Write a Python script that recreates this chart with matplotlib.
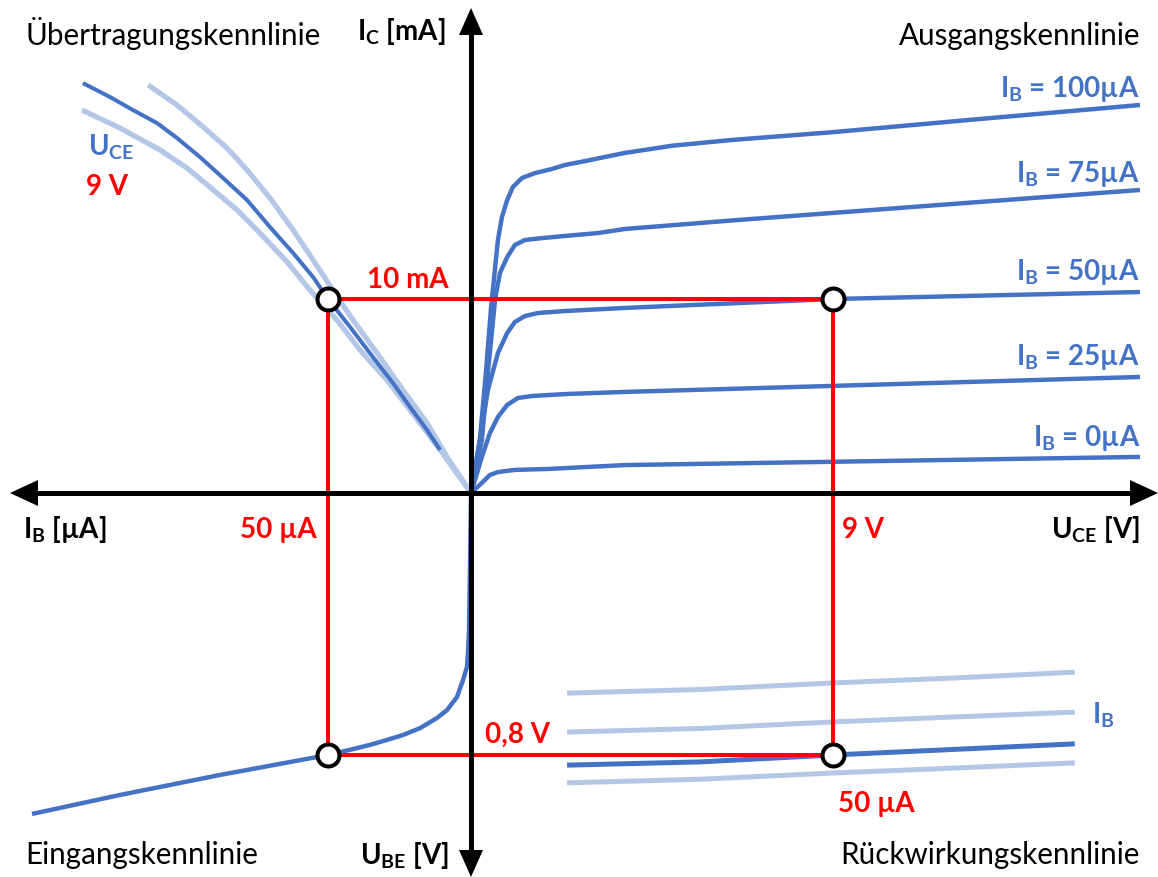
import matplotlib
matplotlib.use("Agg")
import matplotlib.pyplot as plt

plt.rcParams["font.family"] = ["Lato", "DejaVu Sans"]
plt.rcParams["mathtext.fontset"] = "custom"
plt.rcParams["mathtext.rm"] = "Lato"
plt.rcParams["mathtext.bf"] = "Lato:bold"
plt.rcParams["mathtext.it"] = "Lato:italic"

BLUE = "#4472C4"
LIGHT = "#B4C7E7"
RED = "#FF0000"

# ---- operating point ----
UCE_A = 9.0     # V
IC_A = 10.0     # mA
IB_A = 50.0     # µA
UBE_A = 0.8     # V

# ---- Ausgangskennlinie: I_C [mA] over U_CE [V] for each I_B ----
ib_values = [100, 75, 50, 25, 0]
out_uce = [
    [0, 0.22, 0.37, 0.50, 0.67, 0.77, 0.90, 1.04, 1.27, 1.59, 2.01, 2.34, 2.84, 3.33, 3.83,
     5.0, 6.5, 9.0, 12.5, 16.64],
    [0, 0.27, 0.42, 0.60, 0.72, 0.90, 1.09, 1.34, 1.77, 2.34, 3.16, 3.83, 6.5, 16.64],
    [0, 0.22, 0.42, 0.67, 0.90, 1.09, 1.34, 1.67, 2.34, 3.83, 9.0, 16.64],
    [0, 0.27, 0.47, 0.67, 0.90, 1.17, 1.52, 2.34, 3.83, 16.64],
    [0, 0.27, 0.47, 0.67, 1.09, 1.92, 3.83, 16.64],
]
out_ic = [
    [0, 2.73, 6.19, 9.59, 13.04, 14.23, 15.10, 15.77, 16.24, 16.49, 16.70, 16.91, 17.11, 17.32, 17.53,
     17.9, 18.2, 18.6, 19.25, 20.0],
    [0, 2.73, 6.19, 10.0, 11.34, 12.16, 12.78, 13.04, 13.14, 13.25, 13.40, 13.61, 14.05, 15.62],
    [0, 2.73, 5.31, 7.22, 8.25, 8.81, 9.12, 9.28, 9.38, 9.54, 10.0, 10.36],
    [0, 1.86, 3.09, 3.92, 4.54, 4.90, 5.0, 5.10, 5.21, 5.98],
    [0, 0.52, 0.93, 1.08, 1.19, 1.24, 1.44, 1.86],
]

# ---- Übertragungskennlinie: I_C [mA] over I_B [µA] ----
tr_ib_main = [135.7, 126.2, 118.2, 109.8, 102.8, 94.8, 86.7, 78.3, 70.3, 62.2,
              55.2, 50.0, 42.3, 34.3, 27.3, 21.3, 15.4, 10.8]
tr_ic_main = [21.13, 20.41, 19.74, 19.07, 18.30, 17.32, 16.24, 15.10, 13.71, 12.37,
              11.13, 10.0, 8.56, 7.01, 5.67, 4.43, 3.25, 2.22]
tr_ib_high = [112.9, 102.8, 93.7, 85.3, 78.3, 70.3, 62.2, 55.2, 48.3, 41.3,
              32.9, 23.8, 15.4, 8.4, 0]
tr_ic_high = [21.03, 20.0, 18.87, 17.78, 16.65, 15.21, 13.56, 12.01, 10.46, 8.92,
              7.22, 5.31, 3.61, 1.86, 0]
tr_ib_low = [136.0, 122.7, 108.7, 99.3, 91.3, 81.8, 73.8, 64.3, 56.3, 46.9,
             38.8, 29.4, 21.3, 10.8, 0]
tr_ic_low = [19.74, 18.81, 17.68, 16.75, 15.77, 14.59, 13.40, 11.91, 10.46, 8.92,
             7.37, 5.82, 4.28, 2.22, 0]

# ---- Eingangskennlinie: U_BE [V] over I_B [µA] ----
in_ib = [153.5, 122.7, 87.8, 50.0, 41.3, 35.3, 29.4, 23.8, 17.8, 11.9, 8.4,
         4.9, 2.8, 1.4, 1.0, 0.7, 0.3, 0]
in_ube = [0.980, 0.922, 0.861, 0.800, 0.782, 0.769, 0.754, 0.739, 0.718, 0.687, 0.663,
          0.623, 0.571, 0.531, 0.479, 0.418, 0.20, 0]

# ---- Rückwirkungskennlinie: U_BE [V] over U_CE [V] ----
fb_uce = [2.39, 5.70, 9.0, 12.0, 15.02]
fb_ube_1 = [0.611, 0.600, 0.580, 0.565, 0.547]
fb_ube_2 = [0.730, 0.719, 0.699, 0.684, 0.669]
fb_ube_main = [0.831, 0.821, 0.800, 0.783, 0.766]
fb_ube_3 = [0.885, 0.874, 0.855, 0.840, 0.824]

# ---- layout (pixels) ----
W, H = 1158, 877
OX, OY = 471, 493          # crossing point of the axes
PX_UCE = 40.2              # px per V (U_CE)
PX_IC = 19.4               # px per mA
PX_IB = 2.86               # px per µA
PX_UBE = 327.5             # px per V (U_BE)

fig = plt.figure(figsize=(W / 100, H / 100), dpi=100)


def add_ax(x0, y0, x1, y1, z):
    ax = fig.add_axes([x0 / W, 1 - y1 / H, (x1 - x0) / W, (y1 - y0) / H], zorder=z)
    ax.set_axis_off()
    ax.patch.set_visible(False)
    return ax


ax_out = add_ax(OX, 0, W, OY, 1)
ax_out.set_xlim(0, (W - OX) / PX_UCE)
ax_out.set_ylim(0, OY / PX_IC)

ax_tr = add_ax(0, 0, OX, OY, 1)
ax_tr.set_xlim(OX / PX_IB, 0)
ax_tr.set_ylim(0, OY / PX_IC)

ax_in = add_ax(0, OY, OX, H, 1)
ax_in.set_xlim(OX / PX_IB, 0)
ax_in.set_ylim((H - OY) / PX_UBE, 0)

ax_fb = add_ax(OX, OY, W, H, 1)
ax_fb.set_xlim(0, (W - OX) / PX_UCE)
ax_fb.set_ylim((H - OY) / PX_UBE, 0)

ax_top = add_ax(0, 0, W, H, 5)
ax_top.set_xlim(0, W)
ax_top.set_ylim(H, 0)

curve_kw = dict(solid_capstyle="butt", solid_joinstyle="round", clip_on=False)

# output characteristics
for u, i in zip(out_uce, out_ic):
    ax_out.plot(u, i, color=BLUE, lw=3.2, zorder=2, **curve_kw)

# transfer characteristics
ax_tr.plot(tr_ib_high, tr_ic_high, color=LIGHT, lw=3.8, zorder=2, **curve_kw)
ax_tr.plot(tr_ib_low, tr_ic_low, color=LIGHT, lw=3.8, zorder=2, **curve_kw)
ax_tr.plot(tr_ib_main, tr_ic_main, color=BLUE, lw=2.9, zorder=2.5, **curve_kw)

# input characteristic
ax_in.plot(in_ib, in_ube, color=BLUE, lw=3.2, zorder=2, **curve_kw)

# feedback characteristics
for ube in (fb_ube_1, fb_ube_2, fb_ube_3):
    ax_fb.plot(fb_uce, ube, color=LIGHT, lw=3.6, zorder=2, **curve_kw)
ax_fb.plot(fb_uce, fb_ube_main, color=BLUE, lw=3.6, zorder=2.5, **curve_kw)

# operating point construction lines
red_kw = dict(color=RED, lw=2.9, zorder=3, solid_capstyle="butt", clip_on=False)
ax_out.plot([0, UCE_A], [IC_A, IC_A], **red_kw)
ax_out.plot([UCE_A, UCE_A], [IC_A, 0], **red_kw)
ax_tr.plot([IB_A, 0], [IC_A, IC_A], **red_kw)
ax_tr.plot([IB_A, IB_A], [IC_A, 0], **red_kw)
ax_in.plot([IB_A, IB_A], [0, UBE_A], **red_kw)
ax_in.plot([IB_A, 0], [UBE_A, UBE_A], **red_kw)
ax_fb.plot([0, UCE_A], [UBE_A, UBE_A], **red_kw)
ax_fb.plot([UCE_A, UCE_A], [0, UBE_A], **red_kw)

mk = dict(marker="o", ms=15.8, mfc="white", mec="black", mew=2.9, zorder=6, clip_on=False, ls="none")
ax_out.plot([UCE_A], [IC_A], **mk)
ax_tr.plot([IB_A], [IC_A], **mk)
ax_in.plot([IB_A], [UBE_A], **mk)
ax_fb.plot([UCE_A], [UBE_A], **mk)

# coordinate cross with arrow heads
ax_top.plot([30, 1140], [OY, OY], color="black", lw=3.6, solid_capstyle="butt")
ax_top.plot([OX, OX], [25, 860], color="black", lw=3.6, solid_capstyle="butt")
ax_top.fill([10, 38, 38], [OY, OY - 13, OY + 13], color="black", lw=0)
ax_top.fill([1158, 1130, 1130], [OY, OY - 13, OY + 13], color="black", lw=0)
ax_top.fill([OX, OX - 12, OX + 12], [8, 35, 35], color="black", lw=0)
ax_top.fill([OX, OX - 12, OX + 12], [877, 850, 850], color="black", lw=0)

FS = 20
FS_TITLE = 21.3
t = ax_top.text
# quadrant titles
t(25, 45, "Übertragungskennlinie", fontsize=FS_TITLE, ha="left", va="baseline")
t(1140, 45, "Ausgangskennlinie", fontsize=FS_TITLE, ha="right", va="baseline")
t(25, 864, "Eingangskennlinie", fontsize=FS_TITLE, ha="left", va="baseline")
t(1140, 864, "Rückwirkungskennlinie", fontsize=FS_TITLE, ha="right", va="baseline")

# axis labels
bold = dict(fontsize=FS, fontweight="bold", va="baseline")
t(357, 40, r"$\mathbf{I}_\mathbf{C}$ [mA]", ha="left", **bold)
t(23, 538, r"$\mathbf{I}_\mathbf{B}$ [µA]", ha="left", **bold)
t(1140, 538, r"$\mathbf{U}_\mathbf{CE}$ [V]", ha="right", **bold)
t(360, 864, r"$\mathbf{U}_\mathbf{BE}$ [V]", ha="left", **bold)

# curve parameters
ib_label_y = [97, 182, 280, 365, 446]
for ib, y in zip(ib_values, ib_label_y):
    t(1140, y, r"$\mathbf{I}_\mathbf{B}$" + f" = {ib}µA", ha="right", color=BLUE, **bold)
t(88, 155, r"$\mathbf{U}_\mathbf{CE}$", ha="left", color=BLUE, **bold)
t(86, 195, f"{UCE_A:.0f} V", ha="left", color=RED, **bold)
t(1092, 723, r"$\mathbf{I}_\mathbf{B}$", ha="left", color=BLUE, **bold)

# operating point values
t(408, 288, f"{IC_A:.0f} mA", ha="center", color=RED, **bold)
t(317, 538, f"{IB_A:.0f} µA", ha="right", color=RED, **bold)
t(842, 538, f"{UCE_A:.0f} V", ha="left", color=RED, **bold)
t(485, 743, f"{UBE_A:.1f} V".replace(".", ","), ha="left", color=RED, **bold)
t(838, 812, f"{IB_A:.0f} µA", ha="left", color=RED, **bold)

fig.savefig("out.png", dpi=100)
